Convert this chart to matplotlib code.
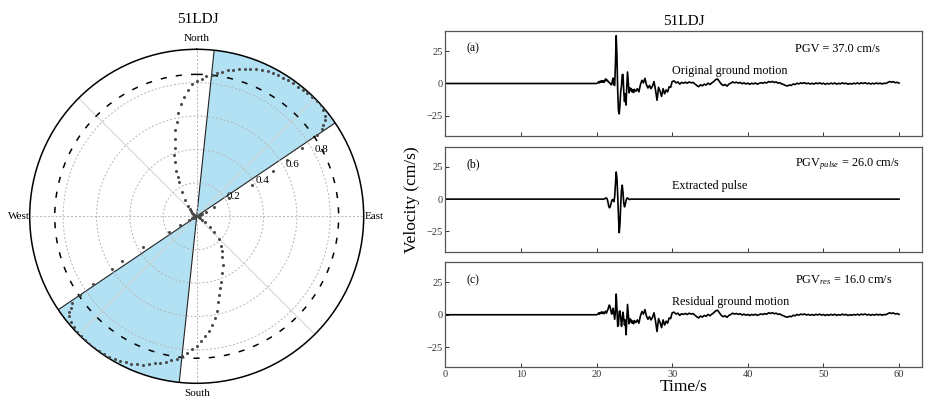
import matplotlib

matplotlib.use("Agg")
import matplotlib.pyplot as plt
import numpy as np

plt.rcParams["font.family"] = ["Liberation Serif", "DejaVu Serif"]
plt.rcParams["mathtext.fontset"] = "custom"
plt.rcParams["mathtext.rm"] = "Liberation Serif"
plt.rcParams["mathtext.it"] = "Liberation Serif:italic"

station = "51LDJ"

# normalised pulse indicator against rotation azimuth (deg, clockwise from north)
azimuth_deg = [
    0, 2, 4, 6, 8, 10, 12, 14, 16, 18, 20, 22, 24, 26, 28, 30, 32, 34, 36, 38,
    40, 42, 44, 46, 48, 50, 52, 53, 54, 55, 56, 57, 58, 59, 60, 61, 62, 63, 64, 66,
    68, 72, 76, 80, 84, 88, 92, 96, 100, 104, 108, 112, 116,
    120, 124, 128, 132, 136, 140, 144, 148, 152, 156, 160, 162, 164, 166, 168, 170,
    172, 174, 176, 178, 180, 182, 184, 186, 188, 190, 192, 194, 196, 198, 200, 202,
    204, 206, 208, 210, 212, 214, 216, 218, 220, 222, 224, 226, 228, 230, 232, 233,
    234, 235, 236, 237, 238, 239, 240, 241, 242, 243, 244, 246,
    248, 252, 256, 260, 264, 268, 272, 276, 280, 284, 288, 292, 296,
    300, 304, 308, 312, 316, 320, 324, 328, 332, 334, 336, 338, 340, 342, 344, 346,
    348, 350, 352, 354, 356, 358,
]
indicator = [
    0.81, 0.825, 0.84, 0.85, 0.865, 0.88, 0.895, 0.905, 0.915, 0.93, 0.94, 0.95, 0.96, 0.968, 0.974, 0.978, 0.98, 0.981, 0.983, 0.985,
    0.988, 0.99, 0.994, 0.998, 0.998, 0.99, 0.975, 0.96, 0.935, 0.915, 0.87, 0.75, 0.64, 0.53, 0.38, 0.22, 0.12, 0.06, 0.035, 0.02,
    0.015, 0.012, 0.015, 0.01, 0.012, 0.015, 0.01, 0.012, 0.015, 0.012, 0.015, 0.018, 0.025,
    0.04, 0.06, 0.10, 0.14, 0.19, 0.23, 0.26, 0.29, 0.33, 0.37, 0.42, 0.45, 0.49, 0.53, 0.58, 0.62,
    0.66, 0.69, 0.72, 0.75, 0.775, 0.795, 0.82, 0.84, 0.86, 0.875, 0.89, 0.905, 0.915, 0.93, 0.945, 0.955,
    0.965, 0.972, 0.978, 0.984, 0.99, 0.994, 0.998, 1.0, 1.0, 0.999, 0.997, 0.994, 0.99, 0.984, 0.97, 0.955,
    0.93, 0.91, 0.84, 0.74, 0.60, 0.52, 0.37, 0.19, 0.11, 0.05, 0.03, 0.02,
    0.015, 0.012, 0.015, 0.01, 0.012, 0.015, 0.01, 0.012, 0.015, 0.012, 0.015, 0.015, 0.018,
    0.02, 0.025, 0.035, 0.045, 0.06, 0.08, 0.12, 0.17, 0.23, 0.26, 0.30, 0.35, 0.39, 0.43, 0.48, 0.53,
    0.58, 0.63, 0.68, 0.72, 0.76, 0.79,
]
dashed_level = 0.85
sector_edges_deg = [(6, 56), (186, 236)]
compass_labels = ["North", "East", "South", "West"]
r_ticks = [0.2, 0.4, 0.6, 0.8]

# velocity histories (cm/s); record is at rest before 20 s
t_20_25 = np.round(20.0 + 0.1 * np.arange(51), 2)
t_25_30 = np.round(25.2 + 0.2 * np.arange(25), 2)
t_30_60 = np.round(30.25 + 0.25 * np.arange(120), 2)

pulse_20_25 = [
    0.0, 0.0, 0.0, 0.0, 0.0, 0.0, 0.0, 0.0, 0.0, 0.0,
    0.1, 0.3, 0.8, 0.9, 0.2, -2.0, -5.0, -6.7, -6.0, -3.8,
    -1.5, -0.3, -0.8, -2.0, 2.0, 12.0, 21.0, 16.0, 3.0, -13.0,
    -26.0, -19.0, -4.0, 7.0, 10.8, 5.0, -3.0, -6.0, -4.0, -1.2,
    0.6, 0.9, 0.4, -0.2, -0.3, 0.0, 0.0, 0.0, 0.0, 0.0,
    0.0,
]
residual_20_25 = [
    0.0, 0.2, 0.6, 1.5, 0.5, 1.8, 1.0, 2.2, 1.0, 2.0,
    0.8, 2.0, 2.8, 1.2, 2.5, 4.0, 6.0, 7.5, 6.0, 3.0,
    0.5, 2.5, 5.0, 1.0, -3.5, 3.0, 16.0, 5.0, -9.0, -8.0,
    2.5, 3.0, -2.0, -9.0, -4.0, 2.0, -3.0, -8.0, -4.0, -15.5,
    -3.0, 8.0, 1.0, -7.0, -3.0, -5.5, -4.0, -6.5, -5.0, -7.0,
    -4.5,
]
residual_25_30 = [
    -6.0, -4.0, -6.5, -1.0, 2.5, 0.5, 4.0, -1.0, -3.5, -1.5,
    -4.0, -2.0, 1.5, -5.0, -13.0, -3.0, -6.0, -10.0, -4.0, -8.0,
    -5.0, -6.5, -2.5, -3.0, 1.5,
]
residual_30_60 = [
    2.0, 0.5, 1.2, -0.5, 0.8, 0.3, 1.0, 0.2, 1.2, 0.5, 0.9, -0.3,
    -1.5, -2.5, -1.0, -1.8, -0.5, -1.2, 0.3, -0.8, 0.5, 1.5, 3.0, 3.5,
    1.5, -0.5, -1.5, -0.8, -2.0, -0.5, 0.2, 1.2, 0.5, 1.0, 0.3, 0.8,
    -0.2, 0.5, -0.4, 0.3, -0.6, 0.2, -0.3, 0.4, -0.5, 0.1, 0.6, 0.2,
    0.9, 0.4, 1.5, 1.0, 1.6, 0.8, 1.2, 0.3, 0.6, -0.4, -0.8, -1.6,
    -1.9, -1.2, -1.5, -0.4, -0.8, 0.2, -0.3, 0.5, 0.1, 0.6, -0.2, 0.3,
    -0.4, 0.2, -0.5, 0.4, -0.2, 0.5, -0.3, 0.2, -0.6, 0.1, -0.4, 0.3,
    -0.3, 0.4, -0.5, 0.1, -0.3, 0.5, -0.2, 0.3, -0.6, 0.0, -0.4, 0.2,
    -0.2, 0.4, -0.3, 0.5, 0.0, 0.6, -0.2, 0.3, -0.4, 0.2, -0.3, 0.4,
    -0.2, 0.3, -0.4, 0.2, 0.0, 0.8, 1.5, 1.0, 1.4, 0.6, 0.9, 0.3,
]

time = np.concatenate([[0.0], t_20_25, t_25_30, t_30_60])
pulse = np.concatenate([[0.0], pulse_20_25, np.zeros(len(t_25_30) + len(t_30_60))])
residual = np.concatenate([[0.0], residual_20_25, residual_25_30, residual_30_60])
original = residual + pulse

fig = plt.figure(figsize=(9.3, 3.99), dpi=100)

# ---- polar panel ----
ax_p = fig.add_axes([29.7 / 930, 15.7 / 399, 334 / 930, 334 / 399], projection="polar")
ax_p.set_theta_zero_location("N")
ax_p.set_theta_direction(-1)
for lo, hi in sector_edges_deg:
    ax_p.bar(np.deg2rad((lo + hi) / 2), 1.0, width=np.deg2rad(hi - lo), bottom=0,
             color="#b3e1f4", edgecolor="none", zorder=0.8)
    for edge in (lo, hi):
        ax_p.plot([np.deg2rad(edge)] * 2, [0, 1], color="#222222", lw=0.8, zorder=1.2)
for diag in (45, 135, 225, 315):
    ax_p.plot([np.deg2rad(diag)] * 2, [0, 1], color="#d2d2d2", lw=0.7, zorder=1.0)
ring = np.linspace(0, 2 * np.pi, 361)
ax_p.plot(ring, np.full_like(ring, dashed_level), color="k", lw=1.1, ls=(0, (4, 6)), zorder=3)
ax_p.plot(np.deg2rad(azimuth_deg), indicator, "o", ms=2.2, color="#4a4a4a", mec="none", zorder=4)

ax_p.set_ylim(0, 1)
ax_p.set_rticks(r_ticks)
ax_p.set_yticklabels([f"{v:.1f}" for v in r_ticks], fontsize=8)
ax_p.set_rlabel_position(62)
ax_p.set_thetagrids([0, 90, 180, 270], compass_labels, fontsize=8)
ax_p.tick_params(axis="x", pad=-3)
ax_p.grid(True, color="#b5b5b5", ls=(0, (2, 2)), lw=0.7)
ax_p.spines["polar"].set_linewidth(1.1)
fig.text(0.2125, 0.95, station, ha="center", va="center", fontsize=11)

# ---- velocity panels ----
panels = [
    ("(a)", original, "PGV", "Original ground motion"),
    ("(b)", pulse, "PGV$_{pulse}$", "Extracted pulse"),
    ("(c)", residual, "PGV$_{res}$", "Residual ground motion"),
]
bottoms = [0.659, 0.3692, 0.0794]
axes = []
for (tag, series, pgv_name, caption), bottom in zip(panels, bottoms):
    ax = fig.add_axes([0.4788, bottom, 0.5123, 0.2635])
    ax.plot(time, series, color="k", lw=1.2)
    ax.set_xlim(0, 63)
    ax.set_ylim(-40.7, 40.7)
    ax.set_yticks([-25, 0, 25])
    ax.set_xticks(range(0, 61, 10))
    ax.tick_params(direction="in", length=3, width=0.7, labelsize=7.5, pad=2, colors="#333333")
    for sp in ax.spines.values():
        sp.set_color("#555555")
        sp.set_linewidth(0.9)
    pgv = np.abs(series).max()
    ax.text(0.045, 0.83, tag, transform=ax.transAxes, ha="left", va="center", fontsize=8.5)
    ax.text(0.735, 0.83, f"{pgv_name} = {pgv:.1f} cm/s", transform=ax.transAxes,
            ha="left", va="center", fontsize=8.8)
    ax.text(30, 10, caption, ha="left", va="center", fontsize=8.7)
    axes.append(ax)

for ax in axes[:-1]:
    ax.tick_params(labelbottom=False)
axes[-1].set_xlabel("Time/s", fontsize=12.5, labelpad=0)
axes[0].set_title(station, fontsize=11, pad=4)
fig.text(0.443, 0.5, "Velocity (cm/s)", rotation=90, ha="center", va="center", fontsize=12.5)

fig.savefig("out.png", dpi=100)
